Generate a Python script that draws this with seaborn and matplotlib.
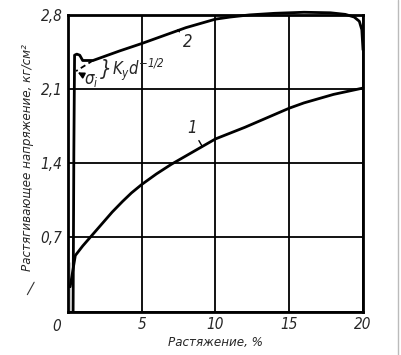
import numpy as np
import pandas as pd
import matplotlib
matplotlib.use("Agg")
import matplotlib.pyplot as plt
from matplotlib.lines import Line2D
import seaborn as sns

# данные
x_curve1 = [0.15, 0.15, 0.5, 1.0, 1.5, 2.0, 2.5, 3.0, 3.7, 4.3, 5.0, 6.0, 7.0, 8.0, 9.0, 10.0,
            11.0, 12.0, 13.0, 14.0, 15.0, 16.0, 17.0, 18.0, 19.0, 20.0]
y_curve1 = [0.0, 0.47, 0.53, 0.62, 0.70, 0.78, 0.86, 0.94, 1.04, 1.12, 1.20, 1.30, 1.39, 1.47, 1.55, 1.63,
            1.685, 1.74, 1.80, 1.86, 1.92, 1.97, 2.01, 2.05, 2.08, 2.11]

x_curve2 = [0.35, 0.40, 0.45, 0.60, 0.80, 1.00, 1.70, 2.5, 3.5, 5.0, 6.0, 7.0, 8.0, 9.0, 10.0, 11.0,
            12.3, 14.0, 16.0, 17.8, 18.8, 19.4, 19.75, 19.92, 20.0, 20.0]
y_curve2 = [0.0, 1.50, 2.42, 2.43, 2.42, 2.37, 2.37, 2.41, 2.46, 2.53, 2.58, 2.63, 2.68, 2.72, 2.76, 2.78,
            2.80, 2.815, 2.825, 2.82, 2.805, 2.78, 2.74, 2.66, 2.52, 2.42]

# пунктир (экстраполяция к пределу текучести)
x_dash = [1.7, 0.55]
y_dash = [2.37, 2.27]

x_ticks = [0, 5, 10, 15, 20]
x_ticklabels = ["", "5", "10", "15", "20"]
y_ticks = [0, 0.7, 1.4, 2.1, 2.8]
y_ticklabels = ["", "0,7", "1,4", "2,1", "2,8"]

sns.set_theme(style="white")
plt.rcParams['font.family'] = ['DejaVu Sans']
plt.rcParams['font.stretch'] = 'condensed'
plt.rcParams['font.style'] = 'italic'

fig = plt.figure(figsize=(4.02, 3.55), dpi=100)
ax = fig.add_axes([0.169, 0.122, 0.734, 0.836])

df1 = pd.DataFrame({"x": x_curve1, "y": y_curve1})
df2 = pd.DataFrame({"x": x_curve2, "y": y_curve2})
sns.lineplot(data=df1, x="x", y="y", sort=False, color="black", lw=2, ax=ax, clip_on=False)
sns.lineplot(data=df2, x="x", y="y", sort=False, color="black", lw=2, ax=ax, clip_on=False)
ax.plot(x_dash, y_dash, color="black", lw=1.3, ls=(0, (3, 2)))

ax.set_xlim(0, 20)
ax.set_ylim(0, 2.8)
ax.set_xticks(x_ticks)
ax.set_xticklabels(x_ticklabels, fontsize=11)
ax.set_yticks(y_ticks)
ax.set_yticklabels(y_ticklabels, fontsize=11)
ax.tick_params(length=0, pad=4)
ax.grid(True, color="black", lw=1.3)
for s in ax.spines.values():
    s.set_color("black")
    s.set_linewidth(2)

# общий ноль в углу
ax.text(-0.45, -0.07, "0", ha="right", va="top", fontsize=11)

ax.set_xlabel("Растяжение, %", fontsize=9.5, labelpad=3)
ax.set_ylabel("Растягивающее напряжение, кг/см²", fontsize=9.5, labelpad=3)
ax.yaxis.set_label_coords(-0.115, 0.52)

# подписи кривых
ax.annotate("2", xy=(7.45, 2.66), xytext=(8.1, 2.54), fontsize=12, ha="center", va="center",
            arrowprops=dict(arrowstyle="-", color="black", lw=1, shrinkA=4, shrinkB=0))
ax.annotate("1", xy=(9.1, 1.56), xytext=(8.4, 1.73), fontsize=12, ha="center", va="center",
            arrowprops=dict(arrowstyle="-", color="black", lw=1, shrinkA=5, shrinkB=0))

# σi и Ky d^-1/2
ax.annotate("σ$_i$", xy=(0.5, 2.27), xytext=(1.6, 2.19), fontsize=12, ha="center", va="center",
            arrowprops=dict(arrowstyle="-|>", color="black", lw=1.2, mutation_scale=9, shrinkA=5))
ax.text(2.55, 2.29, "}", fontsize=15, ha="center", va="center")
ax.text(3.0, 2.28, "K$_y$d$^{-1/2}$", fontsize=12, ha="left", va="center")

# следы скана
fig.add_artist(Line2D([0.068, 0.085], [0.17, 0.205], color="#333333", lw=0.8))
fig.add_artist(Line2D([0.99, 0.99], [0, 1], color="#bbbbbb", lw=1))

plt.savefig("out.png", dpi=100)
